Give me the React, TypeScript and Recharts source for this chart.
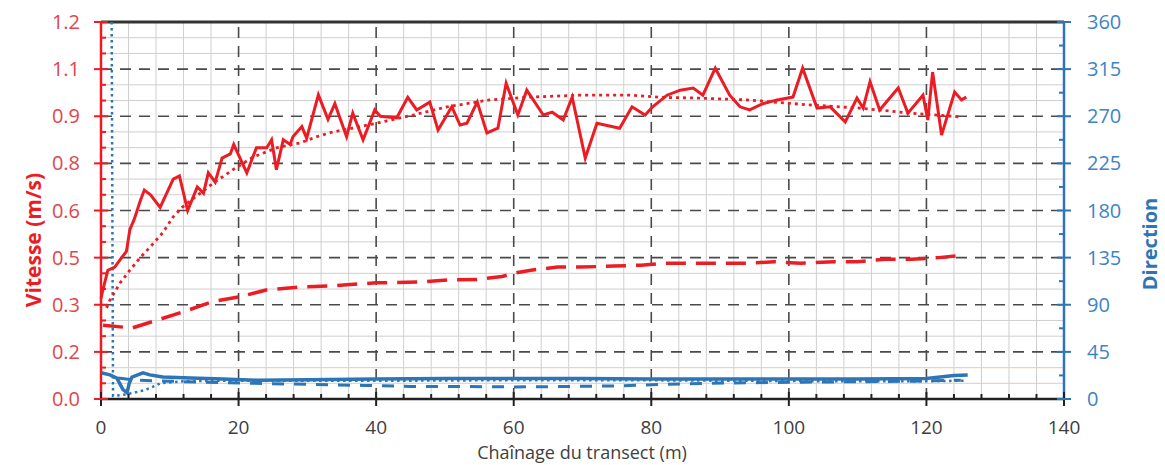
import React from 'react';
import { LineChart, Line, XAxis, YAxis, ReferenceLine } from 'recharts';

// Vitesse mesurée (m/s)
const vitesseX = [
  0, 0.3, 1, 2, 3, 3.7, 4.2, 4.8, 5.7, 6.3,
  7.2, 8.6, 10.5, 11.4, 12.6, 14, 14.9, 15.6, 16.6, 17.6,
  18.8, 19.3, 21.2, 22.6, 24.1, 24.8, 25.5, 26.5, 27.5, 27.9,
  29.2, 29.9, 31.6, 33, 34, 35.7, 36.6, 38.1, 39.8, 40.6,
  43, 44.6, 45.9, 47.8, 49, 51, 52.2, 53.2, 54.7, 56.1,
  57.7, 58.9, 60.6, 61.9, 64.3, 65.6, 67.2, 68.5, 70.4, 72.1,
  75.4, 77.2, 79.1, 80.2, 82.3, 84.2, 86.1, 87.5, 89.3, 91.4,
  92.9, 94.3, 96.2, 98.3, 100.6, 102, 104.1, 106, 108.2, 109.9,
  110.8, 111.8, 113.2, 115.9, 117.3, 119.5, 120.2, 120.9, 122.2, 124.1,
  125.1, 125.8,
];
const vitesseV = [
  0.32, 0.35, 0.41, 0.42, 0.45, 0.47, 0.54, 0.57, 0.63, 0.665,
  0.65, 0.61, 0.70, 0.71, 0.60, 0.675, 0.655, 0.72, 0.69, 0.767,
  0.78, 0.81, 0.72, 0.80, 0.80, 0.825, 0.73, 0.825, 0.81, 0.835,
  0.867, 0.83, 0.968, 0.89, 0.94, 0.835, 0.91, 0.825, 0.92, 0.90,
  0.895, 0.96, 0.92, 0.945, 0.856, 0.93, 0.872, 0.878, 0.945, 0.847,
  0.862, 1.005, 0.904, 0.983, 0.904, 0.913, 0.888, 0.961, 0.767, 0.878,
  0.862, 0.93, 0.904, 0.93, 0.967, 0.983, 0.99, 0.967, 1.053, 0.967,
  0.93, 0.92, 0.94, 0.952, 0.961, 1.053, 0.926, 0.93, 0.882, 0.958,
  0.926, 1.01, 0.92, 0.99, 0.91, 0.967, 0.888, 1.04, 0.84, 0.977,
  0.952, 0.961,
];

// tendance de la vitesse (pointillés)
const tendanceX = [
  0.8, 1.3, 2.8, 4.2, 5.7, 7.4, 9, 10.5, 11.8, 16.3,
  19.2, 22.1, 25.6, 28.9, 31.4, 33.7, 36.6, 40.1, 45.4, 50.3,
  56.5, 62.4, 69.6, 76.9, 81.7, 86.6, 93.9, 103, 110.3, 117.6,
  124.9,
];
const tendanceV = [
  0.29, 0.315, 0.37, 0.41, 0.45, 0.49, 0.53, 0.58, 0.61, 0.687,
  0.73, 0.77, 0.80, 0.815, 0.835, 0.85, 0.862, 0.878, 0.904, 0.93,
  0.952, 0.961, 0.967, 0.967, 0.96, 0.958, 0.952, 0.936, 0.926, 0.91,
  0.898,
];

// vitesse moyenne (tirets)
const moyenneX = [
  0.3, 4.5, 8, 12.3, 16.2, 20.1, 24, 28.8, 33.6, 40,
  41.9, 46.7, 50.6, 54.6, 58.3, 60, 62.5, 66.4, 69.8, 74.6,
  78.5, 81.9, 86.8, 90.6, 94.1, 97.8, 101.7, 106.6, 110, 114,
  117.8, 121.8, 125.6,
];
const moyenneV = [
  0.235, 0.226, 0.25, 0.28, 0.31, 0.325, 0.347, 0.356, 0.36, 0.37,
  0.37, 0.373, 0.379, 0.38, 0.39, 0.40, 0.41, 0.42, 0.42, 0.423,
  0.426, 0.432, 0.432, 0.432, 0.432, 0.437, 0.432, 0.437, 0.437, 0.445,
  0.445, 0.45, 0.458,
];

// direction (degrés)
const directionX = [0, 1.3, 2.3, 3.2, 3.8, 4.1, 4.5, 6.1, 7.1, 9, 13, 17.7, 22.6, 30, 40, 50, 60, 70, 80, 90, 100, 110, 120, 122, 124, 126];
const directionV = [25, 23, 20, 9, 6, 15, 21, 25, 23, 21, 20, 19, 18, 18.5, 19, 19.5, 19.5, 19.5, 19, 19, 19, 19, 19.5, 21, 22.5, 23];

const dirMoyX = [2.5, 5, 10, 15, 22, 30, 38, 45, 52, 60, 68, 75, 82, 88, 95, 100, 110, 118, 125];
const dirMoyV = [20, 18, 17, 16, 15, 14, 13, 12, 12, 11.5, 12, 12.5, 14, 15, 15.5, 16, 16.5, 17, 18];

const dirTendX = [1.55, 1.75, 3.3, 5.2, 6.4, 7.5, 8.6, 12, 20, 30, 45, 60, 75, 90, 105, 120, 125.5];
const dirTendV = [360, 3, 4, 6.7, 8.6, 11.5, 15, 17, 17.5, 17.5, 17.5, 18, 18, 17.5, 17, 17, 17.5];

// axes
const xTicks = Array.from({ length: 36 }, (_, i) => i * 4);
const leftTicks = Array.from({ length: 25 }, (_, i) => +(i * 0.05).toFixed(2));
const leftLabels = ['0.0', '0.2', '0.3', '0.5', '0.6', '0.8', '0.9', '1.1', '1.2'];
const rightTicks = Array.from({ length: 17 }, (_, i) => i * 22.5);
const rightLabels = ['0', '45', '90', '135', '180', '225', '270', '315', '360'];

const pts = (xs: number[], vs: number[]) => xs.map((x, i) => ({ x, v: vs[i] }));

const RED = '#ec1c24';
const BLUE = '#2e75b6';
const FONT = '"Open Sans", Lato, sans-serif';

const LeftTick = ({ x, y, index }: any) => {
  const major = index % 3 === 0;
  return (
    <g>
      <line x1={major ? x - 7 : x} x2={major ? x + 7 : x + 5} y1={y} y2={y} stroke={RED} strokeWidth={2} />
      {major && (
        <text x={x - 21} y={y + 7} textAnchor="end" fill="#e2454d" fontSize={20} fontFamily={FONT}>
          {leftLabels[index / 3]}
        </text>
      )}
    </g>
  );
};

const RightTick = ({ x, y, index }: any) => {
  const major = index % 2 === 0;
  return (
    <g>
      <line x1={major ? x - 7 : x - 5} x2={major ? x + 7 : x} y1={y} y2={y} stroke={BLUE} strokeWidth={2} />
      {major && (
        <text x={x + 23} y={y + 7} textAnchor="start" fill="#3d84c4" fontSize={20} fontFamily={FONT}>
          {rightLabels[index / 2]}
        </text>
      )}
    </g>
  );
};

const BottomTick = ({ x, y, index }: any) => {
  const major = index % 5 === 0;
  return (
    <g>
      <line x1={x} x2={x} y1={major ? y - 7 : y - 5} y2={major ? y + 7 : y} stroke="#222" strokeWidth={2} />
      {major && (
        <text x={x} y={y + 35} textAnchor="middle" fill="#404040" fontSize={19} fontFamily={FONT}>
          {xTicks[index]}
        </text>
      )}
    </g>
  );
};

export default function App() {
  const minorV = xTicks.filter((t) => t % 20 !== 0);
  const majorV = xTicks.filter((t) => t % 20 === 0 && t > 0 && t < 140);
  const minorH = leftTicks.filter((_, i) => i % 3 !== 0 && i !== 2);
  const majorH = leftTicks.filter((_, i) => i % 3 === 0 && i > 0 && i < 24);

  return (
    <div style={{ position: 'fixed', left: 0, top: 0, width: 1165, height: 465, background: '#fff' }}>
      <LineChart width={1165} height={465} margin={{ top: 22, right: 41, bottom: 26, left: 41 }}>
        <XAxis
          dataKey="x"
          type="number"
          domain={[0, 140]}
          ticks={xTicks}
          interval={0}
          tickSize={0}
          tickMargin={0}
          tick={<BottomTick />}
          tickLine={false}
          axisLine={{ stroke: '#222', strokeWidth: 2.5 }}
          height={40}
        />
        <YAxis
          yAxisId="left"
          domain={[0, 1.2]}
          ticks={leftTicks}
          interval={0}
          tickSize={0}
          tickMargin={0}
          tick={<LeftTick />}
          tickLine={false}
          axisLine={{ stroke: RED, strokeWidth: 2.5 }}
          width={60}
        />
        <YAxis
          yAxisId="right"
          orientation="right"
          domain={[0, 360]}
          ticks={rightTicks}
          interval={0}
          tickSize={0}
          tickMargin={0}
          tick={<RightTick />}
          tickLine={false}
          axisLine={{ stroke: BLUE, strokeWidth: 2.5 }}
          width={60}
        />

        {minorV.map((t) => (
          <ReferenceLine key={'mv' + t} x={t} yAxisId="left" stroke="#cfcfcf" strokeWidth={1} />
        ))}
        {minorH.map((t) => (
          <ReferenceLine key={'mh' + t} y={t} yAxisId="left" stroke="#cfcfcf" strokeWidth={1} />
        ))}
        <ReferenceLine y={0.1} yAxisId="left" stroke="#f3cfb4" strokeWidth={1.2} />
        {majorV.map((t) => (
          <ReferenceLine key={'Mv' + t} x={t} yAxisId="left" stroke="#4a4a4a" strokeWidth={1.6} strokeDasharray="11 8" />
        ))}
        {majorH.map((t) => (
          <ReferenceLine key={'Mh' + t} y={t} yAxisId="left" stroke="#4a4a4a" strokeWidth={1.6} strokeDasharray="11 8" />
        ))}
        <ReferenceLine y={1.2} yAxisId="left" stroke="#333" strokeWidth={3} />

        <Line data={pts(dirTendX, dirTendV)} dataKey="v" yAxisId="right" type="linear" stroke={BLUE} strokeWidth={2.5} strokeDasharray="2.5 3.5" dot={false} isAnimationActive={false} />
        <Line data={pts(dirMoyX, dirMoyV)} dataKey="v" yAxisId="right" type="linear" stroke={BLUE} strokeWidth={3} strokeDasharray="12 10" dot={false} isAnimationActive={false} />
        <Line data={pts(directionX, directionV)} dataKey="v" yAxisId="right" type="linear" stroke={BLUE} strokeWidth={3.5} dot={false} isAnimationActive={false} />

        <Line data={pts(moyenneX, moyenneV)} dataKey="v" yAxisId="left" type="linear" stroke={RED} strokeWidth={3.5} strokeDasharray="20 10" dot={false} isAnimationActive={false} />
        <Line data={pts(tendanceX, tendanceV)} dataKey="v" yAxisId="left" type="linear" stroke={RED} strokeWidth={2.8} strokeDasharray="3 4" dot={false} isAnimationActive={false} />
        <Line data={pts(vitesseX, vitesseV)} dataKey="v" yAxisId="left" type="linear" stroke={RED} strokeWidth={3} dot={false} isAnimationActive={false} />
      </LineChart>

      <svg width={1165} height={465} style={{ position: 'absolute', left: 0, top: 0, pointerEvents: 'none' }}>
        <text
          transform="translate(41,240) rotate(-90)"
          textAnchor="middle"
          fill={RED}
          fontSize={21}
          fontWeight="bold"
          fontFamily={FONT}
        >
          Vitesse (m/s)
        </text>
        <text
          transform="translate(1157,244) rotate(-90)"
          textAnchor="middle"
          fill={BLUE}
          fontSize={20}
          fontWeight="bold"
          fontFamily={FONT}
        >
          Direction
        </text>
        <text x={582} y={459} textAnchor="middle" fill="#404040" fontSize={18} fontFamily={FONT}>
          Chaînage du transect (m)
        </text>
      </svg>
    </div>
  );
}
